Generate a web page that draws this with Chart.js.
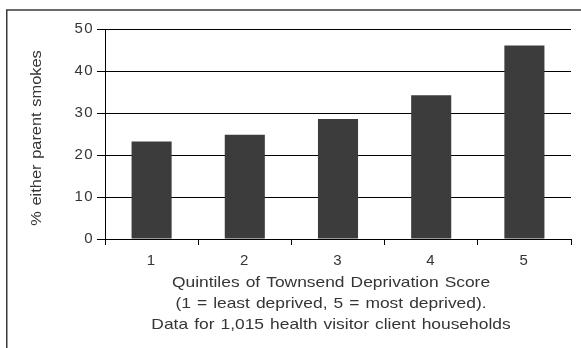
<!DOCTYPE html>
<html>
<head>
<meta charset="utf-8">
<title>Parental smoking by deprivation quintile</title>
<script src="https://cdn.jsdelivr.net/npm/chart.js@4/dist/chart.umd.min.js"></script>
<style>
  body { margin: 0; background: #fff; }
  canvas { display: block; }
</style>
</head>
<body>
<canvas id="smokeChart" width="581" height="348"></canvas>
<script>
// Data
const quintiles = ["1", "2", "3", "4", "5"];
const smokePercent = [23.2, 24.8, 28.6, 34.2, 46.1];
const yTicks = [0, 10, 20, 30, 40, 50];
const yTitle = "% either parent smokes";
const xTitleLines = [
  "Quintiles of Townsend Deprivation Score",
  "(1 = least deprived, 5 = most deprived).",
  "Data for 1,015 health visitor client households"
];

const textColor = "#353535";
const fontFamily = "'Liberation Sans', Arial, sans-serif";

// the old chart has wide digits, give tick labels a bit of room
const spacingPlugin = {
  id: "spacing",
  beforeDraw(chart) {
    chart.ctx.letterSpacing = "1.4px";
  }
};

// draw one line of text stretched sideways like the original
function wideText(c, text, x, y, size, stretch, angle) {
  c.save();
  c.translate(x, y);
  c.rotate(angle);
  c.scale(stretch, 1);
  c.font = size + "px " + fontFamily;
  c.fillText(text, 0, 0);
  c.restore();
}

// frame at the left and top, plus the axis titles
const framePlugin = {
  id: "frame",
  afterDraw(chart) {
    const c = chart.ctx;
    c.save();
    c.strokeStyle = "#3a3a3a";
    c.lineWidth = 1.5;
    c.beginPath();
    c.moveTo(6.75, 348);
    c.lineTo(6.75, 10);
    c.lineTo(581, 10);
    c.stroke();

    c.letterSpacing = "0px";
    c.wordSpacing = "1px";
    c.fillStyle = textColor;
    c.textAlign = "center";
    c.textBaseline = "middle";
    xTitleLines.forEach((line, i) => {
      wideText(c, line, 331, 283 + i * 21, 14.5, 1.2, 0);
    });
    wideText(c, yTitle, 37, 138, 14, 1.17, -Math.PI / 2);
    c.restore();
  }
};

const ctx = document.getElementById("smokeChart").getContext("2d");

let smokeChart = new Chart(ctx, {
  type: "bar",
  data: {
    labels: quintiles,
    datasets: [{
      data: smokePercent,
      backgroundColor: "#3c3c3c",
      borderWidth: 0,
      barPercentage: 0.43,
      categoryPercentage: 1
    }]
  },
  options: {
    responsive: false,
    animation: false,
    layout: { padding: { left: 0, top: 29, right: 10, bottom: 0 } },
    plugins: {
      legend: { display: false },
      tooltip: { enabled: false }
    },
    scales: {
      x: {
        grid: {
          offset: true,
          drawOnChartArea: false,
          tickLength: 6,
          tickColor: "#000",
          color: "#000"
        },
        border: { color: "#000", width: 1 },
        ticks: {
          color: textColor,
          padding: 7,
          font: { family: fontFamily, size: 15 }
        },
        afterFit(scale) { scale.height = 109; }
      },
      y: {
        min: yTicks[0],
        max: yTicks[yTicks.length - 1],
        grid: {
          color: "#000",
          tickLength: 8,
          tickColor: "#000"
        },
        border: { color: "#000", width: 1 },
        ticks: {
          stepSize: yTicks[1] - yTicks[0],
          color: textColor,
          padding: 3,
          font: { family: fontFamily, size: 15 }
        },
        afterFit(scale) { scale.width = 105; }
      }
    }
  },
  plugins: [spacingPlugin, framePlugin]
});
</script>
</body>
</html>
